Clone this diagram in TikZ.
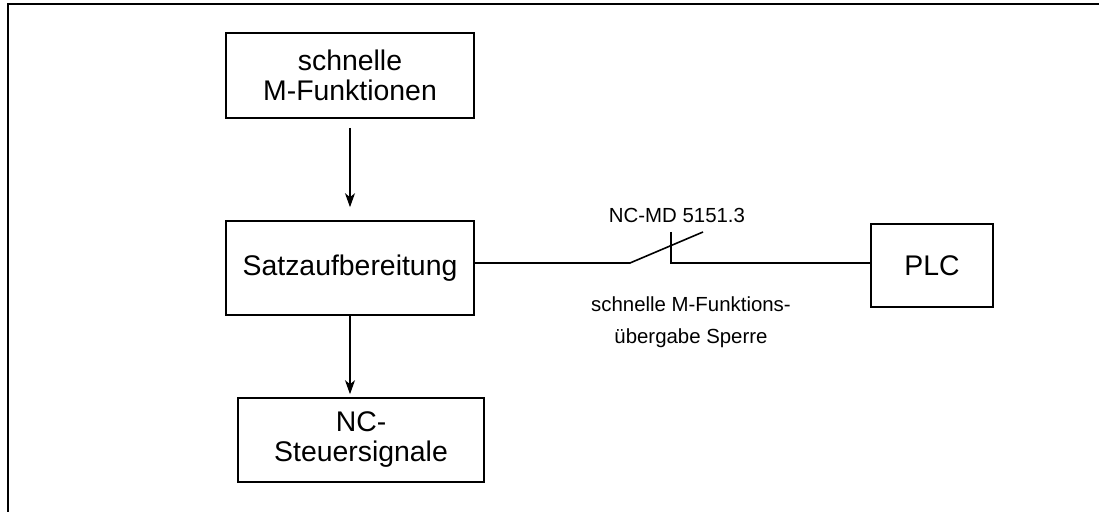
\documentclass[tikz,border=0pt]{standalone}
\usepackage{fontspec}
\setmainfont{Liberation Sans}
\usetikzlibrary{arrows.meta}
\tikzset{
	blk/.style={draw, line width=0.8pt, font=\fontsize{14.2}{15}\selectfont, align=center, inner sep=0pt},
	lbl/.style={font=\fontsize{10.2}{16}\selectfont, align=center, inner sep=0pt},
	flow/.style={line width=0.7pt, -{Stealth[length=7pt, width=5pt, inset=2pt]}}
}

\begin{document}
\begin{tikzpicture}[x=0.5pt, y=-0.5pt]
		%%%%% START %%%%%
		\useasboundingbox (0, 0) rectangle (1099, 512);
		
		\draw[line width=1pt] (1099, 4) -- (8, 4) -- (8, 512);
		
		\node[blk, minimum width=124pt, minimum height=42.5pt] (fastm) at (350, 75.5) {schnelle\\M-Funktionen};
		\node[blk, minimum width=124pt, minimum height=47pt] (prep) at (350, 268) {Satzaufbereitung};
		\node[blk, minimum width=123pt, minimum height=42pt] (ncsig) at (361, 440) {NC-\\Steuersignale};
		\node[blk, minimum width=61pt, minimum height=41.5pt] (plc) at (932, 265.5) {PLC};
		
		\draw[flow, shorten <=4.5pt, shorten >=6.5pt] (fastm.south) -- (prep.north);
		\draw[flow, shorten >=1.5pt] (prep.south) -- (prep.south |- ncsig.north);
		
		% switch between Satzaufbereitung and PLC
		\coordinate (swa) at (630, 263);
		\coordinate (swb) at (703, 232);
		\coordinate (swc) at (671, 263);
		\draw[line width=0.8pt] (prep.east |- swa) -- (swa) -- (swb);
		\draw[line width=0.8pt] (swc |- swb) -- (swc) -- (plc.west |- swc);
		
		\node[lbl] (md) at (677, 215) {NC-MD 5151.3};
		\node[lbl] (lock) at (691, 322) {schnelle M-Funktions-\\übergabe Sperre};
		
		%%%%% END %%%%%
	\end{tikzpicture}
\end{document}
